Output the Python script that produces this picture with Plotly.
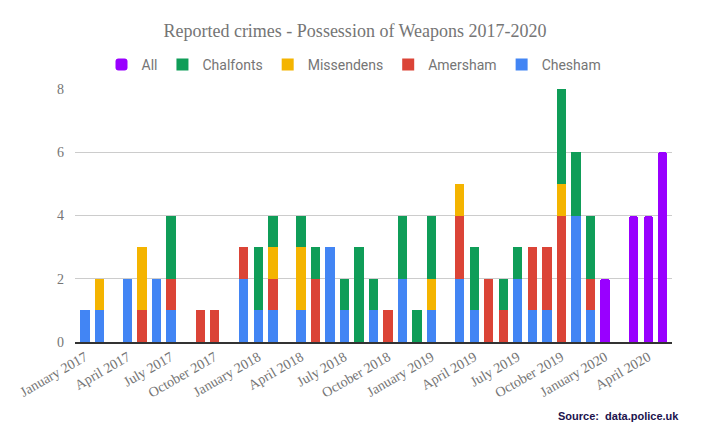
import plotly.graph_objects as go

months = [
    "2017-01-01", "2017-02-01", "2017-03-01", "2017-04-01", "2017-05-01", "2017-06-01",
    "2017-07-01", "2017-08-01", "2017-09-01", "2017-10-01", "2017-11-01", "2017-12-01",
    "2018-01-01", "2018-02-01", "2018-03-01", "2018-04-01", "2018-05-01", "2018-06-01",
    "2018-07-01", "2018-08-01", "2018-09-01", "2018-10-01", "2018-11-01", "2018-12-01",
    "2019-01-01", "2019-02-01", "2019-03-01", "2019-04-01", "2019-05-01", "2019-06-01",
    "2019-07-01", "2019-08-01", "2019-09-01", "2019-10-01", "2019-11-01", "2019-12-01",
    "2020-01-01", "2020-02-01", "2020-03-01", "2020-04-01", "2020-05-01",
]

chesham    = [1, 1, 0, 2, 0, 2, 1, 0, 0, 0, 0, 2, 1, 1, 0, 1, 0, 3, 1, 0, 1, 0, 2, 0, 1, 0, 2, 1, 0, 0, 2, 1, 1, 0, 4, 1, 0, 0, 0, 0, 0]
amersham   = [0, 0, 0, 0, 1, 0, 1, 0, 1, 1, 0, 1, 0, 1, 0, 0, 2, 0, 0, 0, 0, 1, 0, 0, 0, 0, 2, 0, 2, 1, 0, 2, 2, 4, 0, 1, 0, 0, 0, 0, 0]
missendens = [0, 1, 0, 0, 2, 0, 0, 0, 0, 0, 0, 0, 0, 1, 0, 2, 0, 0, 0, 0, 0, 0, 0, 0, 1, 0, 1, 0, 0, 0, 0, 0, 0, 1, 0, 0, 0, 0, 0, 0, 0]
chalfonts  = [0, 0, 0, 0, 0, 0, 2, 0, 0, 0, 0, 0, 2, 1, 0, 1, 1, 0, 1, 3, 1, 0, 2, 1, 2, 0, 0, 2, 0, 1, 1, 0, 0, 3, 2, 2, 0, 0, 0, 0, 0]
all_areas  = [0, 0, 0, 0, 0, 0, 0, 0, 0, 0, 0, 0, 0, 0, 0, 0, 0, 0, 0, 0, 0, 0, 0, 0, 0, 0, 0, 0, 0, 0, 0, 0, 0, 0, 0, 0, 2, 0, 4, 4, 6]

series_names = ["Chesham", "Amersham", "Missendens", "Chalfonts"]
series_values = [chesham, amersham, missendens, chalfonts]
series_colors = ["#4285F4", "#DB4437", "#F4B400", "#0F9D58"]

title_text = "Reported crimes - Possession of Weapons 2017-2020"
source_text = "Source:  data.police.uk"

bar_width_ms = 20 * 86400000
serif = "Liberation Serif, Times New Roman, serif"
grey = "#757575"

W, H = 709, 439
# plot area (figure coordinates)
L, R, T, B = 67, 664, 81, 334

fig = go.Figure()
for name, vals, col in zip(series_names, series_values, series_colors):
    fig.add_trace(go.Bar(
        x=months, y=vals, name=name, width=bar_width_ms,
        marker=dict(color=col, line=dict(width=0)),
    ))

fig.add_trace(go.Bar(
    x=months, y=all_areas, name="All", width=bar_width_ms,
    xaxis="x2",
    marker=dict(color="#9900FF", line=dict(width=0), cornerradius=3),
))

xrange = ["2016-12-11", "2020-05-21"]

fig.update_layout(
    width=W, height=H,
    margin=dict(l=L, r=W - R, t=T, b=H - B, autoexpand=False),
    paper_bgcolor="white", plot_bgcolor="white",
    barmode="stack",
    bargap=0,
    title=dict(
        text=title_text, x=347 / W, xref="container", xanchor="center",
        y=1 - 23 / H, yref="container", yanchor="middle",
        font=dict(family=serif, size=18, color=grey),
    ),
    legend=dict(
        orientation="h", x=346 / W, xref="container", xanchor="center",
        y=1 - 57 / H, yref="container", yanchor="middle",
        font=dict(family="Roboto, sans-serif", size=14, color=grey),
        traceorder="reversed",
        itemclick=False,
    ),
    xaxis=dict(
        type="date", range=xrange, automargin=False,
        tick0="2017-01-01", dtick="M3", tickformat="%B %Y",
        tickangle=-30,
        tickfont=dict(family=serif, size=14, color=grey),
        showgrid=False, zeroline=False,
        showline=True, linecolor="#333333", linewidth=1.5,
        ticks="",
    ),
    xaxis2=dict(
        type="date", range=xrange, overlaying="x", matches="x",
        visible=False,
    ),
    yaxis=dict(
        range=[0, 8], dtick=2, tick0=0, automargin=False,
        tickfont=dict(family=serif, size=14, color=grey),
        showgrid=True, gridcolor="#cccccc", gridwidth=1,
        zeroline=False, showline=False, ticks="",
        ticklabelstandoff=10,
    ),
    annotations=[dict(
        text="<b>" + source_text + "</b>",
        xref="paper", yref="paper",
        x=(673 - L) / (R - L), y=(B - 408) / (B - T),
        xanchor="right", yanchor="middle", showarrow=False,
        font=dict(family="Liberation Sans, Arial, sans-serif", size=11, color="#20124d"),
    )],
)

fig.write_html("out.html")
